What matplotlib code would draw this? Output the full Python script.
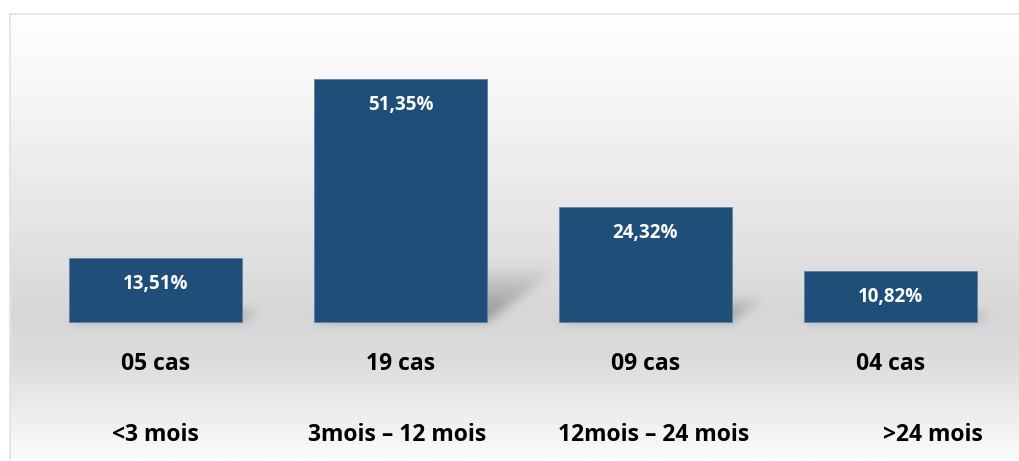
import numpy as np
import matplotlib
matplotlib.use("Agg")
import matplotlib.pyplot as plt
from matplotlib.colors import LinearSegmentedColormap

# ---- data ----
categories = ["<3 mois", "3mois – 12 mois", "12mois – 24 mois", ">24 mois"]
case_labels = ["05 cas", "19 cas", "09 cas", "04 cas"]
percentages = [13.51, 51.35, 24.32, 10.82]

# ---- style ----
BAR_COLOR = "#1f4e79"
BAR_EDGE = "#5b82aa"
FONT = ["Open Sans", "DejaVu Sans"]
WEIGHT = "bold"
BAR_WIDTH = 0.706
category_shift_px = [0, -3, 8, 42]   # horizontal nudges of the category captions

W, H, DPI = 1020, 461, 100
fig = plt.figure(figsize=(W / DPI, H / DPI), dpi=DPI)
fig.patch.set_facecolor("white")

# axes occupy the framed panel (running slightly past the right edge)
left_px, top_px, extra_px = 10, 14, 4
ax = fig.add_axes([left_px / W, 2 / H, (W - left_px + extra_px) / W,
                   (H - top_px - 2) / H])
px_per_x = 245.0
px_per_y = 4.73
base_px = 322 - top_px
x0 = -(155.5 - left_px) / px_per_x
x1 = x0 + (W - left_px + extra_px) / px_per_x
y1 = base_px / px_per_y
y0 = y1 - (H - top_px - 2) / px_per_y
ax.set_xlim(x0, x1)
ax.set_ylim(y0, y1)

# vertical gradient backdrop
stops = [(0.0, "#ffffff"), (0.15, "#f8f8f8"), (0.45, "#e6e6e6"),
         (0.68, "#d7d7d7"), (0.78, "#dcdcdc"), (1.0, "#fbfbfb")]
cmap = LinearSegmentedColormap.from_list("bg", stops)
grad = np.linspace(0, 1, 400).reshape(-1, 1)
ax.imshow(grad, cmap=cmap, aspect="auto", extent=[x0, x1, y0, y1],
          origin="upper", zorder=0, interpolation="bilinear")

# soft slanted shadows cast to the right of every bar
ny, nx = 447, 1014
gx = np.linspace(x0, x1, nx)
gy = np.linspace(y1, y0, ny)
XX, YY = np.meshgrid(gx, gy)
shadow = np.zeros_like(XX)
slant = 1.35 * px_per_y / px_per_x
for i, p in enumerate(percentages):
    sh = 0.23 * p
    inside = (YY >= 0) & (YY <= sh)
    lo = i - BAR_WIDTH / 2 + slant * YY
    hi = i + BAR_WIDTH / 2 + slant * YY
    m = inside & (XX >= lo) & (XX <= hi)
    fade = np.clip(1 - YY / max(sh, 1e-6), 0, 1) ** 0.9
    shadow = np.maximum(shadow, np.where(m, fade, 0.0))


def blur(a, sigma):
    r = int(3 * sigma)
    k = np.exp(-0.5 * (np.arange(-r, r + 1) / sigma) ** 2)
    k /= k.sum()
    a = np.apply_along_axis(lambda v: np.convolve(v, k, mode="same"), 0, a)
    a = np.apply_along_axis(lambda v: np.convolve(v, k, mode="same"), 1, a)
    return a


shadow = blur(shadow, 5.0)
rgba = np.zeros((ny, nx, 4))
rgba[..., :3] = 0.35
rgba[..., 3] = 0.55 * shadow
ax.imshow(rgba, aspect="auto", extent=[x0, x1, y0, y1], origin="upper",
          zorder=1, interpolation="bilinear")

# bars
xs = np.arange(len(percentages))
bars = ax.bar(xs, percentages, width=BAR_WIDTH, color=BAR_COLOR,
              edgecolor=BAR_EDGE, linewidth=0.6, zorder=2)

for b, p in zip(bars, percentages):
    ax.annotate(f"{p:.2f}".replace(".", ",") + "%",
                xy=(b.get_x() + b.get_width() / 2, b.get_height()),
                xytext=(0, -26 * 72 / DPI), textcoords="offset points",
                ha="center", va="center", color="white", fontsize=13.5,
                fontweight=WEIGHT, family=FONT, zorder=3)

for i, lab in enumerate(case_labels):
    ax.annotate(lab, xy=(i, 0), xytext=(0, -42 * 72 / DPI),
                textcoords="offset points", ha="center", va="center",
                fontsize=16.5, fontweight=WEIGHT, family=FONT, color="#000000")

for i, lab in enumerate(categories):
    ax.annotate(lab, xy=(i, 0),
                xytext=(category_shift_px[i] * 72 / DPI, -113 * 72 / DPI),
                textcoords="offset points", ha="center", va="center",
                fontsize=16.5, fontweight=WEIGHT, family=FONT, color="#000000")

# panel frame: only the top and left edges are visible
for s in ("right", "bottom"):
    ax.spines[s].set_visible(False)
for s in ("top", "left"):
    ax.spines[s].set_color("#e2e2e2")
    ax.spines[s].set_linewidth(1.2)
ax.set_xticks([])
ax.set_yticks([])

fig.savefig("out.png", dpi=DPI)
